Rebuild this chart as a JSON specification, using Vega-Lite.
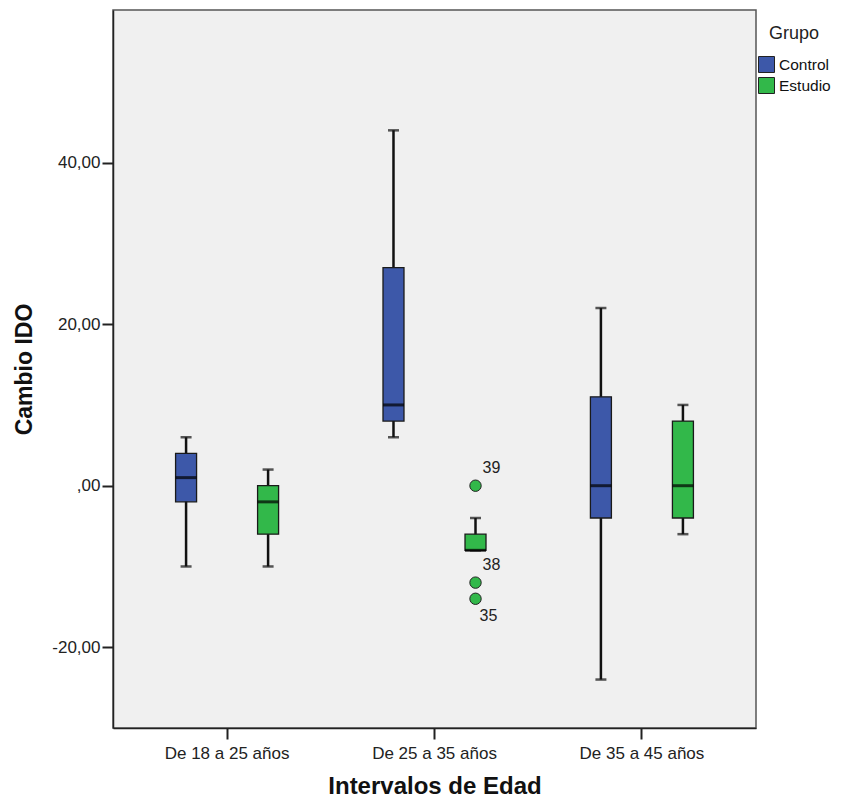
{
  "$schema": "https://vega.github.io/schema/vega-lite/v6.json",
  "width": 643,
  "height": 718,
  "autosize": {"type": "none"},
  "padding": {"left": 113, "top": 10, "right": 86, "bottom": 78},
  "background": "white",
  "config": {
    "font": "Liberation Sans",
    "view": {"fill": "#f0f0f0", "stroke": "#555555", "strokeWidth": 1.5},
    "axis": {"grid": false, "domainColor": "#222222", "domainWidth": 1.5, "tickColor": "#222222", "tickWidth": 2, "tickSize": 11, "labelColor": "#222222", "titleColor": "#111111", "labelFont": "Liberation Sans", "titleFont": "Liberation Sans"}
  },
  "datasets": {
    "boxes": [
      {"edad": "De 18 a 25 años", "grupo": "Control", "min": -10, "q1": -2, "median": 1, "q3": 4, "max": 6},
      {"edad": "De 18 a 25 años", "grupo": "Estudio", "min": -10, "q1": -6, "median": -2, "q3": 0, "max": 2},
      {"edad": "De 25 a 35 años", "grupo": "Control", "min": 6, "q1": 8, "median": 10, "q3": 27, "max": 44},
      {"edad": "De 25 a 35 años", "grupo": "Estudio", "min": -8, "q1": -8, "median": -8, "q3": -6, "max": -4},
      {"edad": "De 35 a 45 años", "grupo": "Control", "min": -24, "q1": -4, "median": 0, "q3": 11, "max": 22},
      {"edad": "De 35 a 45 años", "grupo": "Estudio", "min": -6, "q1": -4, "median": 0, "q3": 8, "max": 10}
    ],
    "outliers": [
      {"edad": "De 25 a 35 años", "grupo": "Estudio", "valor": 0, "caso": "39"},
      {"edad": "De 25 a 35 años", "grupo": "Estudio", "valor": -12, "caso": "38"},
      {"edad": "De 25 a 35 años", "grupo": "Estudio", "valor": -14, "caso": "35"}
    ]
  },
  "encoding": {
    "x": {
      "field": "edad", "type": "nominal",
      "scale": {"domain": ["De 18 a 25 años", "De 25 a 35 años", "De 35 a 45 años"], "paddingInner": 0, "paddingOuter": 0.05},
      "axis": {"title": "Intervalos de Edad", "labelAngle": 0, "labelFontSize": 17, "labelPadding": 6, "titleFontSize": 24, "titleFontWeight": "bold", "titlePadding": 13}
    },
    "xOffset": {
      "field": "grupo", "type": "nominal",
      "scale": {"domain": ["Control", "Estudio"], "paddingInner": 0.744, "paddingOuter": 0.6365}
    }
  },
  "layer": [
    {
      "data": {"name": "boxes"},
      "mark": {"type": "rule", "color": "#111111", "strokeWidth": 2.5},
      "encoding": {
        "y": {"field": "min", "type": "quantitative", "scale": {"domain": [-30, 58.9], "nice": false, "zero": false},
          "axis": {"title": "Cambio IDO", "values": [-20, 0, 20, 40], "labelExpr": "datum.value == 0 ? ',00' : (datum.value < 0 ? '-' : '') + replace(format(abs(datum.value), '.2f'), '.', ',')", "labelFontSize": 17, "labelPadding": 2, "titleFontSize": 23, "titleFontWeight": "bold", "titlePadding": 15}},
        "y2": {"field": "max"}
      }
    },
    {
      "data": {"name": "boxes"},
      "mark": {"type": "tick", "color": "#111111", "thickness": 2.5, "size": 11},
      "encoding": {"y": {"field": "min", "type": "quantitative"}}
    },
    {
      "data": {"name": "boxes"},
      "mark": {"type": "tick", "color": "#111111", "thickness": 2.5, "size": 11},
      "encoding": {"y": {"field": "max", "type": "quantitative"}}
    },
    {
      "data": {"name": "boxes"},
      "mark": {"type": "bar", "stroke": "#1a1a1a", "strokeWidth": 1.3, "opacity": 1},
      "encoding": {
        "y": {"field": "q1", "type": "quantitative"},
        "y2": {"field": "q3"},
        "color": {
          "field": "grupo", "type": "nominal",
          "scale": {"domain": ["Control", "Estudio"], "range": ["#3d58a9", "#32b84a"]},
          "legend": {"title": "Grupo", "orient": "none", "legendX": 645, "legendY": 15, "symbolType": "square", "symbolSize": 256, "symbolStrokeColor": "#222222", "symbolStrokeWidth": 1, "symbolOpacity": 1, "labelFontSize": 15.5, "labelColor": "#111111", "labelOffset": 4, "titleFontSize": 18, "titleFontWeight": "normal", "titleColor": "#222222", "titleAnchor": "middle", "titleAlign": "center", "titlePadding": 13, "rowPadding": 0}
        }
      }
    },
    {
      "data": {"name": "boxes"},
      "mark": {"type": "tick", "color": "#000000", "thickness": 3, "size": 21},
      "encoding": {"y": {"field": "median", "type": "quantitative"}}
    },
    {
      "data": {"name": "outliers"},
      "mark": {"type": "point", "shape": "circle", "filled": true, "fill": "#32b84a", "stroke": "#222222", "strokeWidth": 1, "size": 130, "opacity": 1},
      "encoding": {"y": {"field": "valor", "type": "quantitative"}}
    },
    {
      "data": {"name": "outliers"},
      "transform": [{"filter": "datum.caso != '35'"}],
      "mark": {"type": "text", "align": "left", "baseline": "middle", "dx": 7, "dy": -18, "fontSize": 16, "color": "#222222"},
      "encoding": {"y": {"field": "valor", "type": "quantitative"}, "text": {"field": "caso"}}
    },
    {
      "data": {"name": "outliers"},
      "transform": [{"filter": "datum.caso == '35'"}],
      "mark": {"type": "text", "align": "left", "baseline": "middle", "dx": 4, "dy": 17, "fontSize": 16, "color": "#222222"},
      "encoding": {"y": {"field": "valor", "type": "quantitative"}, "text": {"field": "caso"}}
    }
  ]
}
